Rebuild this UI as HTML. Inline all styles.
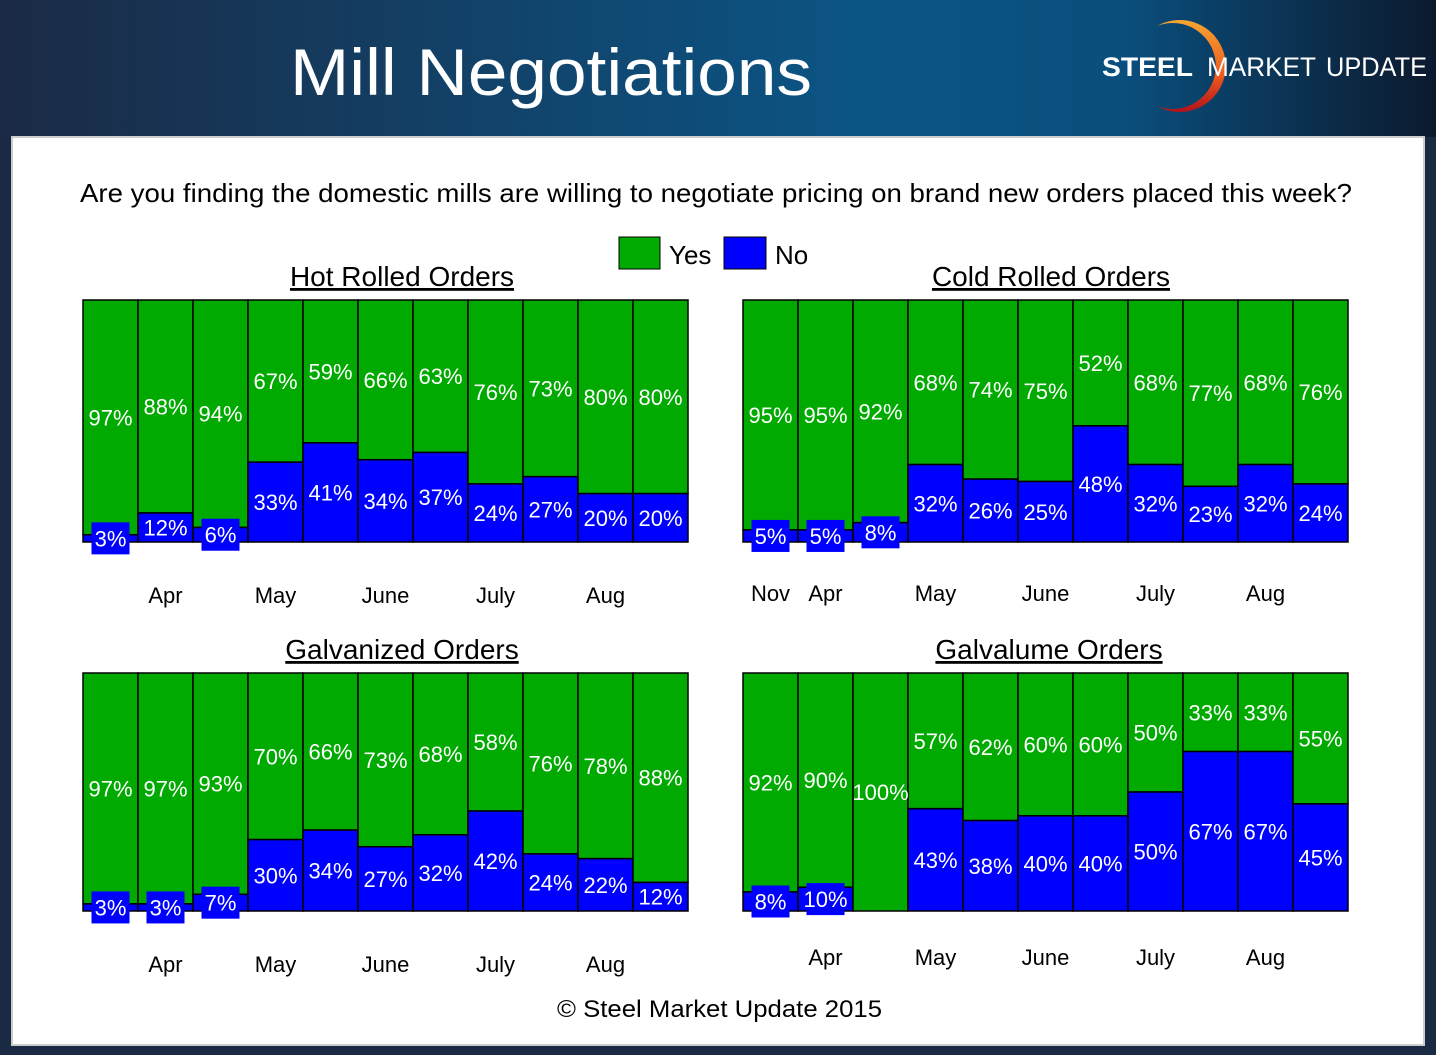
<!DOCTYPE html>
<html><head><meta charset="utf-8"><style>
html,body{margin:0;padding:0;width:1436px;height:1055px;overflow:hidden;background:#1a2a42;font-family:"Liberation Sans",sans-serif}
</style></head><body>
<svg id="s" width="1436" height="1055" xmlns="http://www.w3.org/2000/svg" font-family="Liberation Sans, DejaVu Sans, sans-serif">
<defs>
<linearGradient id="hg" x1="0" x2="1" y1="0" y2="0">
<stop offset="0" stop-color="#1b2a45"/><stop offset="0.6" stop-color="#0b5585"/><stop offset="0.78" stop-color="#0a4f7e"/><stop offset="1" stop-color="#0c1a2e"/>
</linearGradient>
<linearGradient id="og" x1="0" x2="0" y1="0" y2="1"><stop offset="0" stop-color="#f7a530"/><stop offset="0.6" stop-color="#ee5a20"/><stop offset="1" stop-color="#b0121a"/></linearGradient>
</defs>
<rect x="0" y="0" width="1436" height="1055" fill="#1a2a42"/>
<rect x="0" y="0" width="1436" height="137" fill="url(#hg)"/>
<text x="290" y="95" font-size="66" fill="#fff" textLength="522" lengthAdjust="spacingAndGlyphs">Mill Negotiations</text>
<g>
<path d="M1157,26 A46,46 0 1 1 1157,106 A43,43 0 1 0 1157,26 Z" fill="url(#og)"/>
<text x="1102" y="76" font-size="27" fill="#fff" font-weight="bold" textLength="91" lengthAdjust="spacingAndGlyphs">STEEL</text>
<text x="1207" y="76" font-size="27" fill="#fff" textLength="109" lengthAdjust="spacingAndGlyphs">MARKET</text>
<text x="1326" y="76" font-size="27" fill="#fff" textLength="101" lengthAdjust="spacingAndGlyphs">UPDATE</text>
</g>
<rect x="12" y="137" width="1412" height="908" fill="#fff" stroke="#ccc" stroke-width="2"/>
<text x="80" y="202" font-size="26" textLength="1272" lengthAdjust="spacingAndGlyphs" fill="#000">Are you finding the domestic mills are willing to negotiate pricing on brand new orders placed this week?</text>
<g>
<rect x="619" y="237" width="41" height="32" fill="#00aa00" stroke="#000"/>
<text x="669" y="264" font-size="26">Yes</text>
<rect x="724" y="237" width="42" height="32" fill="#0000ff" stroke="#000"/>
<text x="775" y="264" font-size="26">No</text>
</g>
<text x="402" y="286" font-size="28" text-anchor="middle" text-decoration="underline">Hot Rolled Orders</text>
<text x="1051" y="286" font-size="28" text-anchor="middle" text-decoration="underline">Cold Rolled Orders</text>
<text x="402" y="659" font-size="28" text-anchor="middle" text-decoration="underline">Galvanized Orders</text>
<text x="1049" y="659" font-size="28" text-anchor="middle" text-decoration="underline">Galvalume Orders</text>
<text x="557" y="1017" font-size="24" textLength="325" lengthAdjust="spacingAndGlyphs">© Steel Market Update 2015</text>
<g id="charts"></g>
</svg>
<script>
const hotYes=[97,88,94,67,59,66,63,76,73,80,80];
const hotNo=[3,12,6,33,41,34,37,24,27,20,20];
const hotMonths=["","Apr","","May","","June","","July","","Aug",""];
const coldYes=[95,95,92,68,74,75,52,68,77,68,76];
const coldNo=[5,5,8,32,26,25,48,32,23,32,24];
const coldMonths=["Nov","Apr","","May","","June","","July","","Aug",""];
const galvYes=[97,97,93,70,66,73,68,58,76,78,88];
const galvNo=[3,3,7,30,34,27,32,42,24,22,12];
const galvMonths=["","Apr","","May","","June","","July","","Aug",""];
const glumYes=[92,90,100,57,62,60,60,50,33,33,55];
const glumNo=[8,10,0,43,38,40,40,50,67,67,45];
const glumMonths=["","Apr","","May","","June","","July","","Aug",""];
const NS="http://www.w3.org/2000/svg";
const root=document.getElementById('charts');
function mk(tag,attrs,parent){const e=document.createElementNS(NS,tag);for(const k in attrs)e.setAttribute(k,attrs[k]);parent.appendChild(e);return e;}
function chart(name,x0,y0,w,h,yes,no,months,my){
  const g=mk('g',{},root);
  
  
  const n=yes.length,bw=w/n;
  const xs=i=>x0+i*bw;
  const ys=v=>y0+h-v/100*h;
  for(let i=0;i<n;i++){
    const ny=ys(no[i]);
    const r1=mk('rect',{x:xs(i),y:y0,width:bw,height:ny-y0,fill:'#00aa00',stroke:'#000','stroke-width':1.5},g);
    
    
    if(no[i]>0){
      const r2=mk('rect',{x:xs(i),y:ny,width:bw,height:y0+h-ny,fill:'#0000ff',stroke:'#000','stroke-width':1.5},g);
      
      
    }
  }
  for(let i=0;i<n;i++){
    const cx=xs(i)+bw/2;
    const ny=ys(no[i]);
    const t1=mk('text',{x:cx,y:(y0+ny)/2+8,'font-size':22,'text-anchor':'middle',fill:'#fff'},g);
    t1.textContent=yes[i]+'%';
    
    
    if(no[i]>0){
      const cy=(ny+y0+h)/2;
      if(no[i]<12){mk('rect',{x:cx-19,y:cy-16,width:38,height:32,fill:'#0000ff'},g);}
      const t2=mk('text',{x:cx,y:cy+8,'font-size':22,'text-anchor':'middle',fill:'#fff'},g);
      t2.textContent=no[i]+'%';
      
      
    }
    if(months[i]){
      const t3=mk('text',{x:cx,y:my,'font-size':22,'text-anchor':'middle',fill:'#000'},g);
      t3.textContent=months[i];
      
      
    }
  }
}
chart('hot-rolled',83,300,605,242,hotYes,hotNo,hotMonths,603);
chart('cold-rolled',743,300,605,242,coldYes,coldNo,coldMonths,601);
chart('galvanized',83,673,605,238,galvYes,galvNo,galvMonths,972);
chart('galvalume',743,673,605,238,glumYes,glumNo,glumMonths,965);
</script>
</body></html>
